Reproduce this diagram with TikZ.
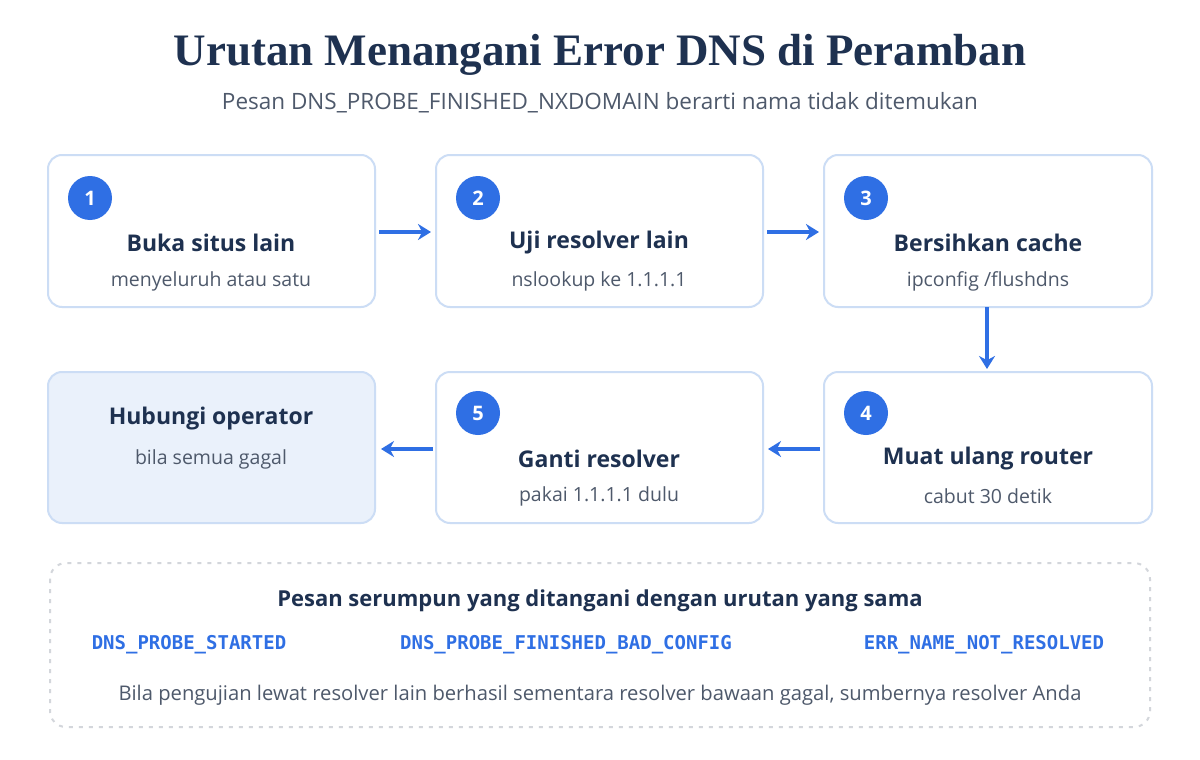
\documentclass[tikz,border=0pt]{standalone}
\usetikzlibrary{arrows.meta}
\usepackage{fontspec}
\setmainfont{Open Sans}
\newfontfamily\ttl{Liberation Serif}
\newfontfamily\mono{DejaVu Sans Mono}
\definecolor{navy}{HTML}{1E3150}
\definecolor{gry}{HTML}{4E596B}
\definecolor{bord}{HTML}{CCDDF5}
\definecolor{blu}{HTML}{2F6FE4}
\definecolor{lfill}{HTML}{EAF1FB}
\definecolor{dash}{HTML}{D3D6DB}
\begin{document}
\begin{tikzpicture}[x=1pt,y=-1pt,
  box/.style={draw=bord,line width=2pt,rounded corners=14pt,fill=white},
  num/.style={circle,fill=blu,minimum size=44pt,inner sep=0pt,text=white,font=\fontsize{20}{20}\selectfont\bfseries},
  hd/.style={text=navy,font=\fontsize{23}{23}\selectfont\bfseries},
  sb/.style={text=gry,font=\fontsize{19.5}{19.5}\selectfont},
  cd/.style={text=blu,font=\fontsize{19}{19}\selectfont\bfseries\mono},
  arr/.style={draw=blu,line width=3.5pt,-{Stealth[length=13pt,width=16pt]}}]
\useasboundingbox (0,0) rectangle (1200,760);
\fill[white] (0,0) rectangle (1200,760);
\node[text=navy,font=\fontsize{45}{45}\selectfont\bfseries\ttl] (title) at (600,55) {Urutan Menangani Error DNS di Peramban};
\node[text=gry,font=\fontsize{22.5}{22.5}\selectfont] (subt) at (600,103) {Pesan DNS\_PROBE\_FINISHED\_NXDOMAIN berarti nama tidak ditemukan};
% boxes
\draw[box] (48,155) rectangle (375,307);
\draw[box] (436,155) rectangle (763,307);
\draw[box] (824,155) rectangle (1152,307);
\draw[box,fill=lfill] (48,372) rectangle (375,523);
\draw[box] (436,372) rectangle (763,523);
\draw[box] (824,372) rectangle (1152,523);
\node[num] (n1) at (90,198) {1};
\node[num] (n2) at (478,198) {2};
\node[num] (n3) at (866,198) {3};
\node[num] (n5) at (478,413) {5};
\node[num] (n4) at (866,413) {4};
\node[hd] (t1) at (211,243) {Buka situs lain};
\node[sb] (s1) at (211,281) {menyeluruh atau satu};
\node[hd] (t2) at (599,243) {Uji resolver lain};
\node[sb] (s2) at (599,281) {nslookup ke 1.1.1.1};
\node[hd] (t3) at (988,243) {Bersihkan cache};
\node[sb] (s3) at (988,281) {ipconfig /flushdns};
\node[hd] (t4) at (988,459) {Muat ulang router};
\node[sb] (s4) at (988,496) {cabut 30 detik};
\node[hd] (t5) at (599,459) {Ganti resolver};
\node[sb] (s5) at (599,496) {pakai 1.1.1.1 dulu};
\node[hd] (t6) at (211,419) {Hubungi operator};
\node[sb] (s6) at (211,459) {bila semua gagal};
\coordinate (a1) at (379,232); \coordinate (a1e) at (431,232);
\coordinate (a2) at (767,232); \coordinate (a2e) at (819,232);
\coordinate (a3) at (987,307); \coordinate (a3e) at (987,369);
\coordinate (a4) at (820,449); \coordinate (a4e) at (768,449);
\coordinate (a5) at (433,449); \coordinate (a5e) at (381,449);
\draw[arr] (a1) -- (a1e);
\draw[arr] (a2) -- (a2e);
\draw[arr] (a3) -- (a3e);
\draw[arr] (a4) -- (a4e);
\draw[arr] (a5) -- (a5e);
\draw[draw=dash,line width=2pt,dash pattern=on 4pt off 6pt,rounded corners=16pt] (50,563) rectangle (1150,727);
\node[text=navy,font=\fontsize{22}{22}\selectfont\bfseries] (ft) at (600,601) {Pesan serumpun yang ditangani dengan urutan yang sama};
\node[cd] (c1) at (189,645) {DNS\_PROBE\_STARTED};
\node[cd] (c2) at (566,645) {DNS\_PROBE\_FINISHED\_BAD\_CONFIG};
\node[cd] (c3) at (984,645) {ERR\_NAME\_NOT\_RESOLVED};
\node[text=gry,font=\fontsize{20.2}{20.2}\selectfont] (fb) at (600,695) {Bila pengujian lewat resolver lain berhasil sementara resolver bawaan gagal, sumbernya resolver Anda};
\end{tikzpicture}
\end{document}
